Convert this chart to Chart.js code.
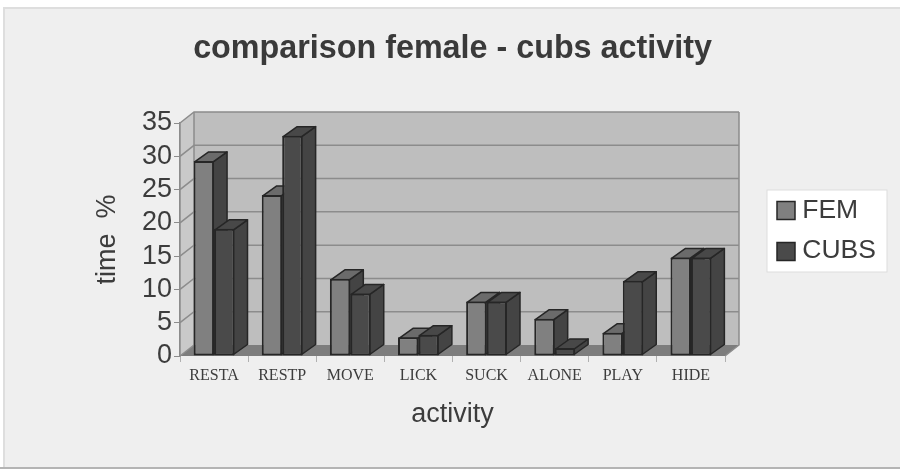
<!DOCTYPE html>
<html>
<head>
<meta charset="utf-8">
<script src="https://cdn.jsdelivr.net/npm/chart.js@4/dist/chart.umd.min.js"></script>
<style>
  html, body { margin: 0; padding: 0; background: #ffffff; }
  #wrap { position: relative; width: 900px; height: 469px; }
</style>
</head>
<body>
<div id="wrap"><canvas id="activityChart" width="900" height="469"></canvas></div>
<script>
const categories = ['RESTA', 'RESTP', 'MOVE', 'LICK', 'SUCK', 'ALONE', 'PLAY', 'HIDE'];
const femValues = [29.3, 24.2, 11.6, 2.8, 8.2, 5.6, 3.5, 14.8];
const cubsValues = [19.1, 33.1, 9.4, 3.2, 8.2, 1.2, 11.3, 14.8];
const yTicks = [0, 5, 10, 15, 20, 25, 30, 35];

const femColor = '#808080';
const cubsColor = '#4a4a4a';
const edgeColor = '#262626';
const textColor = '#3c3c3c';

// Depth offset of the fake 3D box
const wallDx = 14, wallDy = 11;
const barDx = 14, barDy = 10;

function polygon(ctx, pts, fill, stroke, lineWidth) {
    ctx.beginPath();
    pts.forEach((p, i) => i ? ctx.lineTo(p[0], p[1]) : ctx.moveTo(p[0], p[1]));
    ctx.closePath();
    if (fill) { ctx.fillStyle = fill; ctx.fill(); }
    if (stroke) { ctx.strokeStyle = stroke; ctx.lineWidth = lineWidth || 1; ctx.stroke(); }
}

const box3d = {
    id: 'box3d',
    // Page panel and white legend box behind everything
    beforeDraw(chart) {
        const ctx = chart.ctx;
        ctx.save();
        ctx.fillStyle = '#dedede';
        ctx.fillRect(3, 7, 897, 462);
        ctx.fillStyle = '#efefef';
        ctx.fillRect(5, 9, 895, 458);
        ctx.fillStyle = '#b4b4b4';
        ctx.fillRect(0, 467, 900, 2);
        ctx.fillStyle = '#ffffff';
        ctx.fillRect(767, 190, 120, 82);
        ctx.strokeStyle = '#dddddd';
        ctx.lineWidth = 1;
        ctx.strokeRect(767, 190, 120, 82);
        ctx.restore();
    },
    // Back wall, side wall, floor and gridlines, then the bars left to right
    beforeDatasetsDraw(chart) {
        const ctx = chart.ctx, a = chart.chartArea, y = chart.scales.y;
        ctx.save();
        polygon(ctx, [[a.left + wallDx, a.top - wallDy], [a.right + wallDx, a.top - wallDy],
            [a.right + wallDx, a.bottom - wallDy], [a.left + wallDx, a.bottom - wallDy]], '#bebebe');
        polygon(ctx, [[a.left, a.top], [a.left + wallDx, a.top - wallDy],
            [a.left + wallDx, a.bottom - wallDy], [a.left, a.bottom]], '#c9c9c9');
        polygon(ctx, [[a.left, a.bottom], [a.left + wallDx, a.bottom - wallDy],
            [a.right + wallDx, a.bottom - wallDy], [a.right, a.bottom]], '#7d7d7d');
        ctx.strokeStyle = '#8c8c8c';
        ctx.lineWidth = 1.5;
        yTicks.forEach(v => {
            const py = y.getPixelForValue(v);
            ctx.beginPath();
            ctx.moveTo(a.left, py);
            ctx.lineTo(a.left + wallDx, py - wallDy);
            if (v > 0) ctx.lineTo(a.right + wallDx, py - wallDy);
            ctx.stroke();
        });
        ctx.beginPath();
        ctx.moveTo(a.left, a.bottom);
        ctx.lineTo(a.left, a.top);
        ctx.moveTo(a.left + wallDx, a.top - wallDy);
        ctx.lineTo(a.left + wallDx, a.bottom - wallDy);
        ctx.moveTo(a.right + wallDx, a.top - wallDy);
        ctx.lineTo(a.right + wallDx, a.bottom - wallDy);
        ctx.lineTo(a.right, a.bottom);
        ctx.stroke();

        // FEM has to go under CUBS, so each bar is drawn here with its depth faces
        ctx.lineJoin = 'round';
        chart.data.datasets.forEach((ds, index) => {
            const topFace = index === 0 ? '#6b6b6b' : '#484848';
            chart.getDatasetMeta(index).data.forEach(bar => {
                const l = bar.x - bar.width / 2 + 1, r = bar.x + bar.width / 2 - 1, t = bar.y + 1, b = bar.base - 1;
                polygon(ctx, [[r, t], [r + barDx, t - barDy], [r + barDx, b - barDy], [r, b]], '#444444', edgeColor, 1.5);
                polygon(ctx, [[l, t], [l + barDx, t - barDy], [r + barDx, t - barDy], [r, t]], topFace, edgeColor, 1.5);
                bar.draw(ctx);
            });
        });
        ctx.restore();
    },
    // Bars are already down, skip the default pass
    beforeDatasetDraw() {
        return false;
    },
    // Legend sits outside the plot, to the right
    afterLayout(chart) {
        const legend = chart.legend;
        legend.left = 767; legend.right = 887;
        legend.top = 183; legend.bottom = 320;
    },
    // Square legend swatches
    afterDatasetsDraw(chart) {
        const ctx = chart.ctx;
        ctx.save();
        chart.data.datasets.forEach((ds, i) => {
            const py = 201.5 + i * 41;
            ctx.fillStyle = ds.backgroundColor;
            ctx.strokeStyle = edgeColor;
            ctx.lineWidth = 1.5;
            ctx.fillRect(777, py, 18, 18);
            ctx.strokeRect(777, py, 18, 18);
        });
        ctx.restore();
    }
};

new Chart(document.getElementById('activityChart'), {
    type: 'bar',
    data: {
        labels: categories,
        datasets: [
            { label: 'FEM', data: femValues, backgroundColor: femColor },
            { label: 'CUBS', data: cubsValues, backgroundColor: cubsColor }
        ]
    },
    options: {
        responsive: false,
        animation: false,
        layout: { padding: { left: 0, right: 175, top: 0, bottom: 0 } },
        datasets: {
            bar: {
                categoryPercentage: 0.6,
                barPercentage: 1,
                borderColor: edgeColor,
                borderWidth: 2,
                borderSkipped: false
            }
        },
        plugins: {
            title: {
                display: true,
                fullSize: false,
                text: 'comparison female - cubs activity',
                color: '#3a3a3a',
                font: { family: 'Liberation Sans', size: 32.3, weight: 'bold' },
                padding: { top: 30, bottom: 54.24 }
            },
            legend: {
                position: 'chartArea',
                align: 'start',
                labels: {
                    color: textColor,
                    font: { family: 'Liberation Sans', size: 26.5 },
                    boxWidth: 8,
                    boxHeight: 22,
                    padding: 14,
                    generateLabels(chart) {
                        return chart.data.datasets.map((ds, i) => ({
                            text: ds.label,
                            fontColor: textColor,
                            fillStyle: 'rgba(0,0,0,0)',
                            strokeStyle: 'rgba(0,0,0,0)',
                            lineWidth: 0,
                            datasetIndex: i
                        }));
                    }
                }
            },
            tooltip: { enabled: false }
        },
        scales: {
            x: {
                grid: { drawOnChartArea: false, tickLength: 6, color: '#b0b0b0' },
                border: { display: false },
                ticks: {
                    color: textColor,
                    font: { family: 'Liberation Serif', size: 16 },
                    maxRotation: 0,
                    autoSkip: false,
                    padding: 4
                },
                title: {
                    display: true,
                    text: 'activity',
                    color: textColor,
                    font: { family: 'Liberation Sans', size: 27 },
                    padding: { top: 0, bottom: 38 }
                },
                afterFit(scale) { scale.height = 113; }
            },
            y: {
                min: 0,
                max: 35,
                afterBuildTicks(scale) { scale.ticks = yTicks.map(v => ({ value: v })); },
                grid: { drawOnChartArea: false, tickLength: 6, color: '#8c8c8c' },
                border: { color: '#8c8c8c', width: 1.5 },
                ticks: {
                    color: textColor,
                    font: { family: 'Liberation Sans', size: 27 },
                    autoSkip: false,
                    padding: 2
                },
                title: {
                    display: true,
                    text: 'time  %',
                    color: textColor,
                    font: { family: 'Liberation Sans', size: 27 },
                    padding: { top: 91, bottom: 0 }
                },
                afterFit(scale) { scale.width = 180; }
            }
        }
    },
    plugins: [box3d]
});
</script>
</body>
</html>
